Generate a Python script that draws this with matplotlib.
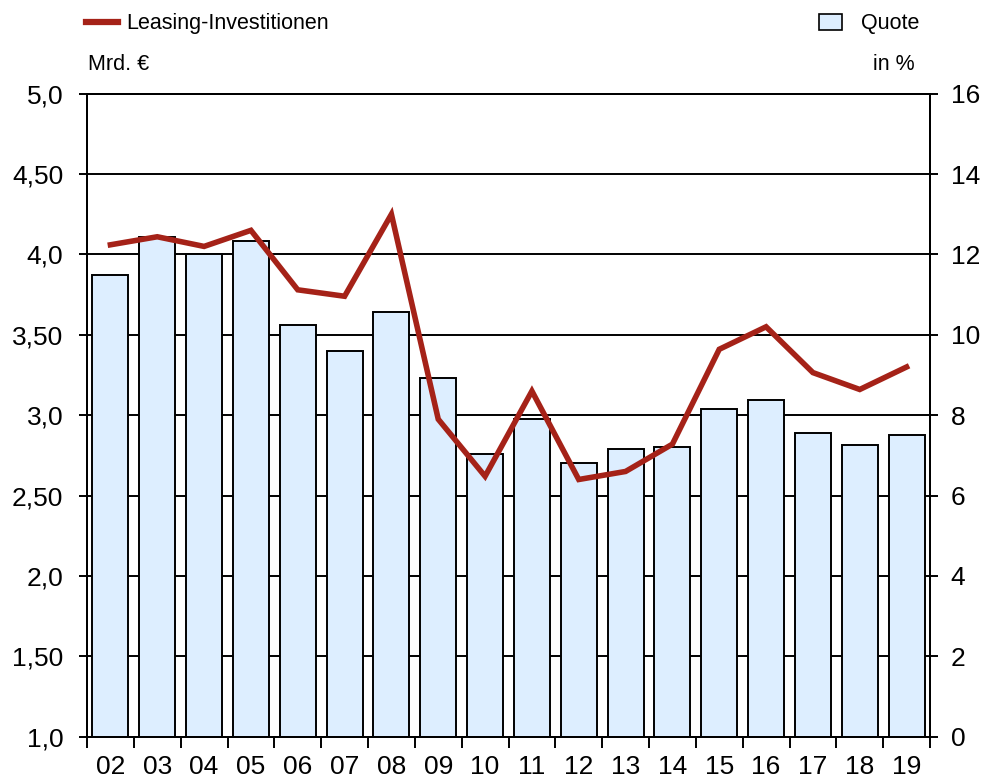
import matplotlib
matplotlib.use("Agg")
import matplotlib.pyplot as plt
from matplotlib.lines import Line2D
from matplotlib.patches import Patch

plt.rcParams["font.family"] = ["Liberation Sans", "DejaVu Sans"]

# ---------------------------------------------------------------------------
# Daten
# ---------------------------------------------------------------------------
years = ["02", "03", "04", "05", "06", "07", "08", "09", "10",
         "11", "12", "13", "14", "15", "16", "17", "18", "19"]

# Quote in % (Balken, rechte Achse)
quote = [11.50, 12.44, 12.00, 12.34, 10.25, 9.60, 10.56, 8.92, 7.03,
         7.91, 6.81, 7.17, 7.20, 8.16, 8.38, 7.55, 7.27, 7.50]

# Leasing-Investitionen in Mrd. € (Linie, linke Achse)
leasing = [4.06, 4.11, 4.05, 4.15, 3.78, 3.74, 4.25, 2.975, 2.62,
           3.15, 2.60, 2.65, 2.82, 3.41, 3.55, 3.265, 3.16, 3.30]

left_ticks = [1.0, 1.5, 2.0, 2.5, 3.0, 3.5, 4.0, 4.5, 5.0]
left_labels = ["1,0", "1,50", "2,0", "2,50", "3,0", "3,50", "4,0", "4,50", "5,0"]
right_ticks = [0, 2, 4, 6, 8, 10, 12, 14, 16]

LINE_COLOR = "#A52218"
BAR_COLOR = "#DDEEFF"

# ---------------------------------------------------------------------------
# Plot
# ---------------------------------------------------------------------------
fig = plt.figure(figsize=(9.88, 7.79), dpi=100)
ax = fig.add_axes([87 / 988, 1 - 736.7 / 779, (930 - 87) / 988, (736.7 - 93.7) / 779])
ax2 = ax.twinx()

x = list(range(len(years)))

# Balken (rechte Skala)
ax.bar(x, quote, width=0.77, color=BAR_COLOR, edgecolor="black", linewidth=1.4, zorder=2)
ax.set_ylim(0, 16)
ax.set_xlim(-0.5, len(years) - 0.5)
ax.yaxis.tick_right()
ax.yaxis.set_label_position("right")
ax.set_yticks(right_ticks)
ax.set_yticklabels([str(t) for t in right_ticks])
ax.grid(axis="y", color="black", linewidth=1.4, zorder=0)
ax.set_axisbelow(True)

ax.set_xticks(x)
ax.set_xticklabels(years)
ax.set_xticks([i - 0.5 for i in range(len(years) + 1)], minor=True)
ax.tick_params(axis="x", which="major", length=0, pad=13, labelsize=19)
ax.tick_params(axis="x", which="minor", length=8, width=1.4, direction="out")
ax.tick_params(axis="y", length=6, width=1.4, direction="out", pad=9, labelsize=19)

for s in ax.spines.values():
    s.set_linewidth(1.4)

# Linie (linke Skala)
ax2.plot(x, leasing, color=LINE_COLOR, linewidth=4.0, solid_joinstyle="miter", zorder=3)
ax2.set_ylim(1.0, 5.0)
ax2.yaxis.tick_left()
ax2.yaxis.set_label_position("left")
ax2.set_yticks(left_ticks)
ax2.set_yticklabels(left_labels)
ax2.tick_params(axis="y", length=6, width=1.4, direction="out", pad=11, labelsize=19)
for s in ax2.spines.values():
    s.set_linewidth(1.4)

# Legenden
h_line = Line2D([], [], color=LINE_COLOR, linewidth=4.5)
fig.legend(handles=[h_line], labels=["Leasing-Investitionen"],
           loc="center left", bbox_to_anchor=(86 / 988, 1 - 24 / 779),
           frameon=False, fontsize=15.5, borderpad=0, borderaxespad=0,
           handlelength=1.5, handletextpad=0.35)
h_bar = Patch(facecolor=BAR_COLOR, edgecolor="black", linewidth=1.2)
fig.legend(handles=[h_bar], labels=["Quote"],
           loc="center right", bbox_to_anchor=(919 / 988, 1 - 24 / 779),
           frameon=False, fontsize=15.5, borderpad=0, borderaxespad=0,
           handlelength=1.1, handleheight=0.75, handletextpad=0.85)

fig.text(88 / 988, 1 - 65 / 779, "Mrd. €", fontsize=15.5, ha="left", va="center")
fig.text(915 / 988, 1 - 65 / 779, "in %", fontsize=15.5, ha="right", va="center")

fig.savefig("out.png", dpi=100)
